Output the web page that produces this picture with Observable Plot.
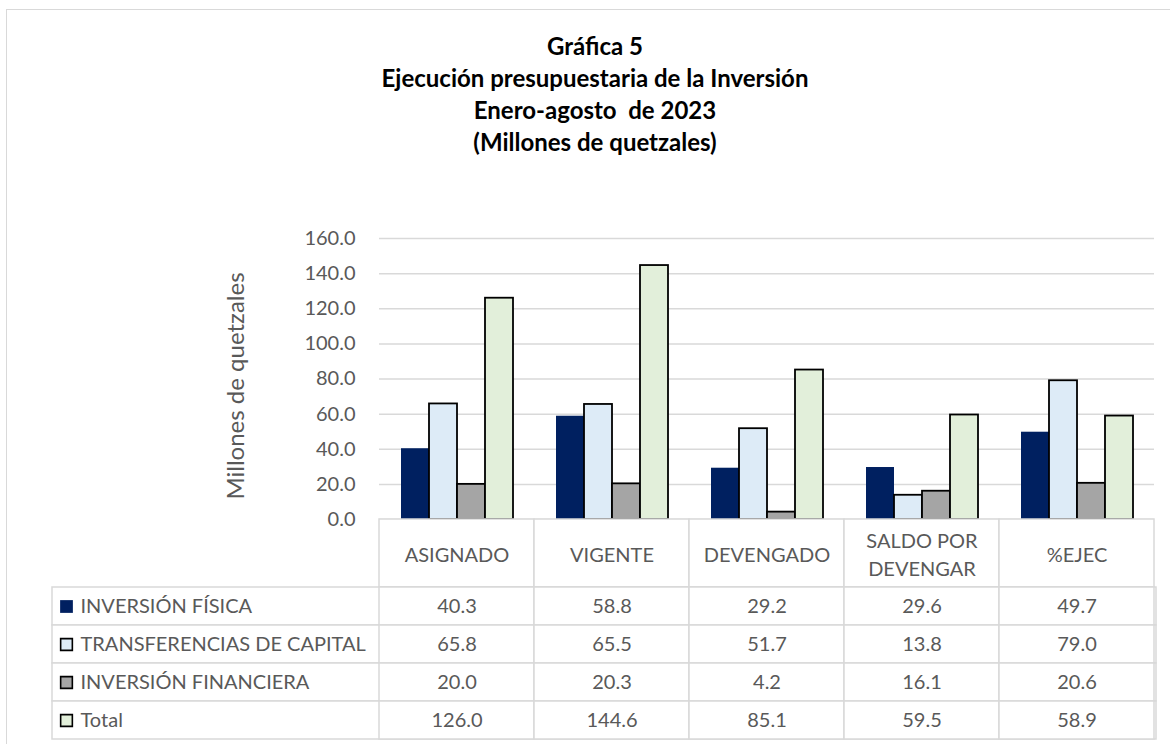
<!DOCTYPE html>
<html>
<head>
<meta charset="utf-8">
<script src="https://cdn.jsdelivr.net/npm/d3@7"></script>
<script src="https://cdn.jsdelivr.net/npm/@observablehq/plot@0.6"></script>
<style>
  body { margin: 0; background: #fff; font-family: Lato, sans-serif; }
  #frame { position: absolute; left: 6px; top: 9px; width: 1200px; height: 800px; border: 1px solid #d9d9d9; box-sizing: border-box; }
  #title { position: absolute; left: 0; width: 1190px; top: 30px; text-align: center; font: bold 24px/32px Lato, sans-serif; color: #000; }
  #ylabel { position: absolute; left: 83px; top: 373px; width: 300px; height: 26px; line-height: 26px; text-align: center;
            font: 24px Lato, sans-serif; color: #595959; transform: rotate(-90deg); transform-origin: 150px 13px; white-space: nowrap; }
  #bars { position: absolute; left: 0; top: 180px; }
  #head { position: absolute; left: 0; top: 519px; }
  #rows { position: absolute; left: 0; top: 587px; }
  svg { overflow: visible; }
</style>
</head>
<body>
<div id="frame"></div>
<div id="title">Gráfica 5<br>Ejecución presupuestaria de la Inversión<br>Enero-agosto&nbsp; de 2023<br>(Millones de quetzales)</div>
<div id="bars"></div>
<div id="head"></div>
<div id="rows"></div>
<div id="ylabel"></div>
<script>
const categories = ["ASIGNADO", "VIGENTE", "DEVENGADO", "SALDO POR DEVENGAR", "%EJEC"];
const headerLabels = ["ASIGNADO", "VIGENTE", "DEVENGADO", "SALDO POR\nDEVENGAR", "%EJEC"];
const series = ["INVERSIÓN FÍSICA", "TRANSFERENCIAS DE CAPITAL", "INVERSIÓN FINANCIERA", "Total"];
const inversionFisica = [40.3, 58.8, 29.2, 29.6, 49.7];
const transferencias = [65.8, 65.5, 51.7, 13.8, 79.0];
const inversionFinanciera = [20.0, 20.3, 4.2, 16.1, 20.6];
const total = [126.0, 144.6, 85.1, 59.5, 58.9];
const colors = ["#002060", "#ddebf7", "#a5a5a5", "#e2efda"];
const yTicks = [0, 20, 40, 60, 80, 100, 120, 140, 160];
const yLabel = "Millones de quetzales";

document.getElementById("ylabel").textContent = yLabel;

const seriesValues = [inversionFisica, transferencias, inversionFinanciera, total];
const rows = series.flatMap((s, i) => seriesValues[i].map((v, j) => ({cat: categories[j], series: s, value: v})));
const outlined = rows.filter(d => d.series !== series[0]);
const plain = rows.filter(d => d.series === series[0]);

const textColor = "#595959";
const gridColor = "#d9d9d9";

const barsPlot = Plot.plot({
  width: 1170,
  height: 341,
  marginLeft: 377,
  marginRight: 14,
  marginTop: 58,
  marginBottom: 2,
  style: {fontFamily: "Lato, sans-serif", fontSize: "20px", color: textColor, background: "transparent"},
  fx: {domain: categories, padding: 0, axis: null},
  x: {domain: series, paddingInner: 0, paddingOuter: 0.75, axis: null},
  y: {domain: [0, 160]},
  color: {domain: series, range: colors},
  marks: [
    Plot.gridY(yTicks, {stroke: gridColor, strokeOpacity: 1, strokeWidth: 1.5}),
    Plot.axisY(yTicks, {tickSize: 0, tickPadding: 24, tickFormat: d => d.toFixed(1), fill: textColor, fontSize: 20, label: null}),
    Plot.barY(plain, {fx: "cat", x: "series", y: "value", fill: "series"}),
    Plot.barY(outlined, {fx: "cat", x: "series", y: "value", fill: "series", stroke: "#000", strokeWidth: 1.8})
  ]
});
document.getElementById("bars").append(barsPlot);

const headPlot = Plot.plot({
  width: 1170,
  height: 68,
  marginLeft: 377,
  marginRight: 14,
  marginTop: 0,
  marginBottom: 0,
  style: {fontFamily: "Lato, sans-serif", fontSize: "20px", color: textColor, background: "transparent"},
  x: {domain: categories, padding: 0, axis: null},
  marks: [
    Plot.cell(categories, {x: d => d, fill: "#fff", stroke: gridColor, strokeWidth: 1.5}),
    Plot.text(categories, {x: d => d, text: (d, i) => headerLabels[i], frameAnchor: "middle", fontSize: 20, fill: textColor, lineHeight: 1.4})
  ]
});
document.getElementById("head").append(headPlot);

const rowsPlot = Plot.plot({
  width: 1170,
  height: 157,
  marginLeft: 52,
  marginRight: 14,
  marginTop: 0,
  marginBottom: 5,
  style: {fontFamily: "Lato, sans-serif", fontSize: "20px", color: textColor, background: "transparent"},
  x: {domain: categories, range: [377, 1156], padding: 0, axis: null},
  y: {domain: series, padding: 0, axis: null},
  color: {domain: series, range: colors},
  marks: [
    Plot.cell(series, {y: d => d, fill: "#fff", stroke: gridColor, strokeWidth: 1.5}),
    Plot.cell(rows, {x: "cat", y: "series", fill: "#fff", stroke: gridColor, strokeWidth: 1.5}),
    Plot.text(rows, {x: "cat", y: "series", text: d => d.value.toFixed(1), fontSize: 20, fill: textColor}),
    Plot.dot(series.slice(0, 1), {y: d => d, fill: d => d, frameAnchor: "left", dx: 14, symbol: "square", r: 7.2}),
    Plot.dot(series.slice(1), {y: d => d, fill: d => d, frameAnchor: "left", dx: 14, symbol: "square", r: 6.6, stroke: "#000", strokeWidth: 1.6}),
    Plot.text(series, {y: d => d, frameAnchor: "left", dx: 28, textAnchor: "start", text: d => d, fontSize: 20, fill: textColor})
  ]
});
document.getElementById("rows").append(rowsPlot);
</script>
</body>
</html>
